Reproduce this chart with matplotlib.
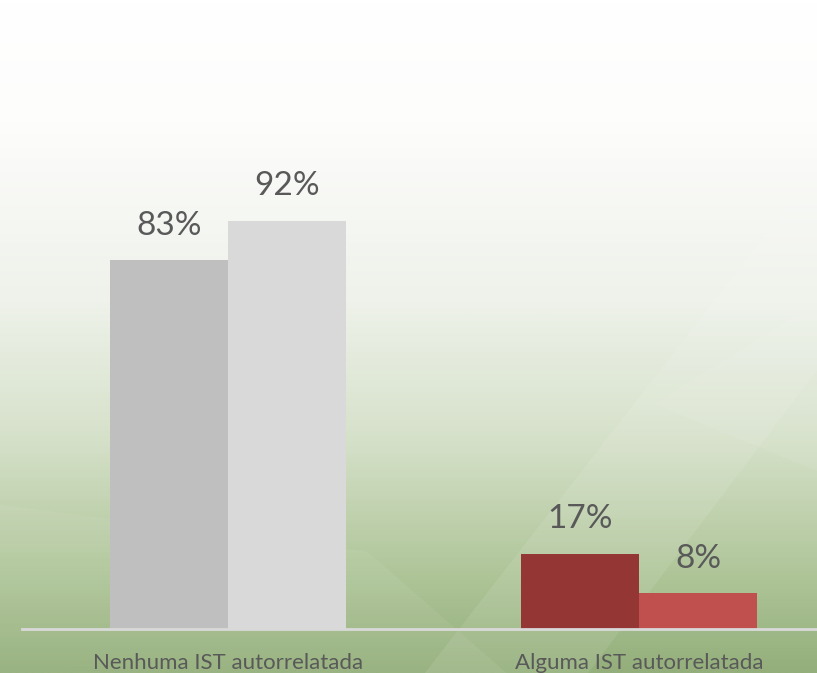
import matplotlib
matplotlib.use("Agg")
import matplotlib.pyplot as plt
import numpy as np
from matplotlib.colors import LinearSegmentedColormap
from matplotlib.patches import Polygon

categories = ["Nenhuma IST autorrelatada", "Alguma IST autorrelatada"]
serie_a = [83, 17]
serie_b = [92, 8]
cores_a = ["#BFBFBF", "#943634"]
cores_b = ["#D9D9D9", "#C0504D"]

plt.rcParams['font.family'] = ['Lato', 'DejaVu Sans']

W, H = 817, 673
fig = plt.figure(figsize=(W / 100, H / 100), dpi=100)

# fundo com degradê branco -> verde
bg = fig.add_axes([0, 0, 1, 1])
bg.set_axis_off()
grad = LinearSegmentedColormap.from_list(
    "fundo",
    [(0.0, "#FFFFFF"), (0.18, "#FDFDFC"), (0.45, "#EEF2EA"),
     (0.65, "#D6E1CA"), (0.85, "#B0C69A"), (1.0, "#94AF7B")])
g = np.linspace(0, 1, 400).reshape(-1, 1)
bg.imshow(g, cmap=grad, aspect="auto", extent=[0, 1, 1, 0])
bg.set_xlim(0, 1)
bg.set_ylim(1, 0)
# faixas diagonais claras
for pts, a in [
    ([(0.52, 1.0), (1.0, 0.25), (1.0, 0.55), (0.72, 1.0)], 0.09),
    ([(0.0, 0.75), (0.45, 0.82), (0.62, 1.0), (0.0, 1.0)], 0.06),
    ([(0.80, 0.60), (1.0, 0.45), (1.0, 0.70)], 0.07),
]:
    bg.add_patch(Polygon(pts, closed=True, facecolor="white", alpha=a, lw=0))

base_px = 629
ax = fig.add_axes([22 / W, (H - base_px) / H, 1 - 22 / W, base_px / H])
ax.patch.set_alpha(0)

x = np.array([0.0, 1.0])
w = 118 / 411
ax.bar(x - w / 2, serie_a, width=w, color=cores_a, zorder=2)
ax.bar(x + w / 2, serie_b, width=w, color=cores_b, zorder=2)

for xi, v in zip(x - w / 2, serie_a):
    ax.annotate(f"{v}%", (xi, v), xytext=(0, 14), textcoords="offset points",
                ha="center", va="bottom", fontsize=24, color="#595959")
for xi, v in zip(x + w / 2, serie_b):
    ax.annotate(f"{v}%", (xi, v), xytext=(0, 14), textcoords="offset points",
                ha="center", va="bottom", fontsize=24, color="#595959")

ax.set_xlim(-206 / 411, (817 - 228) / 411)
ax.set_ylim(0, base_px / 4.44)
ax.set_yticks([])
ax.set_xticks(x)
ax.set_xticklabels(categories, fontsize=16, color="#595959")
ax.tick_params(axis="x", length=0, pad=17)
for s in ["top", "right", "left"]:
    ax.spines[s].set_visible(False)
ax.spines["bottom"].set_color("#D9D9D9")
ax.spines["bottom"].set_linewidth(2)

fig.savefig("out.png", dpi=100)
